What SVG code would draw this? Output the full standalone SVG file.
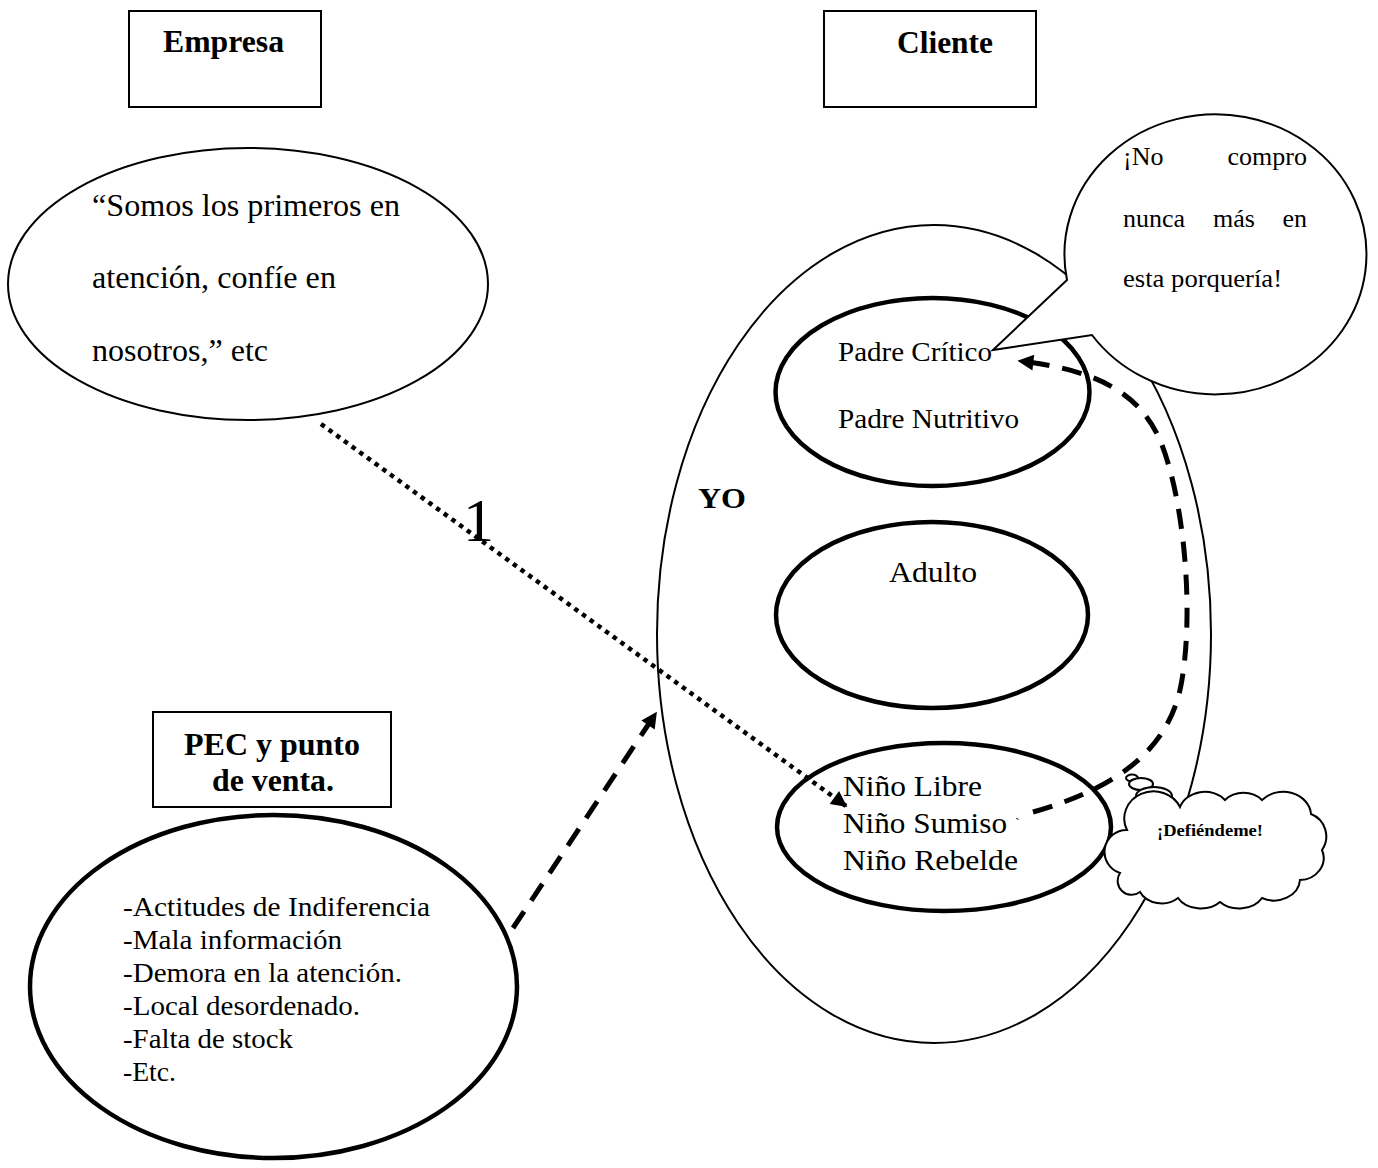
<svg xmlns="http://www.w3.org/2000/svg" width="1378" height="1168" viewBox="0 0 1378 1168">
  <style>
    .box { fill: #fff; stroke: #000; stroke-width: 2; }
    .thin { fill: #fff; stroke: #000; stroke-width: 2; }
    .thick { fill: none; stroke: #000; stroke-width: 4.5; }
    .t { font-family: "Liberation Serif", "Times New Roman", serif; fill: #000; }
    .b { font-family: "Liberation Serif", "Times New Roman", serif; font-weight: bold; fill: #000; }
    .dot { fill: none; stroke: #000; stroke-width: 4.5; stroke-dasharray: 4.5 5; }
    .dash { fill: none; stroke: #000; stroke-width: 5; stroke-dasharray: 20 13; }
  </style>
  <defs>
    <marker id="head" viewBox="0 0 10 10" refX="9" refY="5" markerWidth="18" markerHeight="16" markerUnits="userSpaceOnUse" orient="auto">
      <path d="M0,0 L10,5 L0,10 Z" fill="#000"/>
    </marker>
  </defs>

  <rect width="1378" height="1168" fill="#fff"/>

  <!-- title boxes -->
  <g id="empresa">
    <rect class="box" x="129" y="11" width="192" height="96"/>
    <text class="b" x="163" y="52" font-size="31" textLength="121" lengthAdjust="spacingAndGlyphs">Empresa</text>
  </g>
  <g id="cliente">
    <rect class="box" x="824" y="11" width="212" height="96"/>
    <text class="b" x="897" y="53" font-size="31" textLength="96" lengthAdjust="spacingAndGlyphs">Cliente</text>
  </g>

  <!-- company message -->
  <g id="mensaje-empresa">
    <ellipse class="thin" cx="248" cy="284" rx="240" ry="136"/>
    <text class="t" x="92" y="216" font-size="31" textLength="308" lengthAdjust="spacingAndGlyphs">“Somos los primeros en</text>
    <text class="t" x="92" y="288" font-size="31" textLength="244" lengthAdjust="spacingAndGlyphs">atención, confíe en</text>
    <text class="t" x="92" y="361" font-size="31" textLength="176" lengthAdjust="spacingAndGlyphs">nosotros,” etc</text>
  </g>

  <!-- client ego states -->
  <g id="yo">
    <ellipse class="thin" cx="934" cy="634" rx="277" ry="409"/>
    <text class="b" x="698" y="508" font-size="29" textLength="48" lengthAdjust="spacingAndGlyphs">YO</text>
  </g>
  <g id="padre">
    <ellipse class="thick" cx="932.5" cy="392" rx="157" ry="94"/>
    <text class="t" x="838" y="361" font-size="28" textLength="154" lengthAdjust="spacingAndGlyphs">Padre Crítico</text>
    <text class="t" x="838" y="428" font-size="28" textLength="181" lengthAdjust="spacingAndGlyphs">Padre Nutritivo</text>
  </g>
  <g id="adulto">
    <ellipse class="thick" cx="932" cy="615" rx="156" ry="93"/>
    <text class="t" x="889" y="582" font-size="30" textLength="88" lengthAdjust="spacingAndGlyphs">Adulto</text>
  </g>
  <g id="nino">
    <ellipse class="thick" cx="944" cy="827" rx="167" ry="84"/>
    <text class="t" x="843" y="796" font-size="30" textLength="139" lengthAdjust="spacingAndGlyphs">Niño Libre</text>
    <text class="t" x="843" y="833" font-size="30" textLength="164" lengthAdjust="spacingAndGlyphs">Niño Sumiso</text>
    <text class="t" x="1015" y="828" font-size="14">`</text>
    <text class="t" x="843" y="870" font-size="30" textLength="175" lengthAdjust="spacingAndGlyphs">Niño Rebelde</text>
  </g>

  <!-- speech bubble of the critical parent -->
  <g id="globo-padre">
    <path class="thin" d="M1067,280 L993,350 L1092,335 A151,140 0 1 0 1067,280 Z"/>
    <text class="t" x="1123" y="165" font-size="26">¡No</text>
    <text class="t" x="1307" y="165" font-size="26" text-anchor="end">compro</text>
    <text class="t" x="1123" y="227" font-size="26">nunca</text>
    <text class="t" x="1234" y="227" font-size="26" text-anchor="middle">más</text>
    <text class="t" x="1307" y="227" font-size="26" text-anchor="end">en</text>
    <text class="t" x="1123" y="287" font-size="26" textLength="159" lengthAdjust="spacingAndGlyphs">esta porquería!</text>
  </g>

  <!-- point of sale -->
  <g id="pec">
    <rect class="box" x="153" y="712" width="238" height="95"/>
    <text class="b" x="184" y="755" font-size="31" textLength="176" lengthAdjust="spacingAndGlyphs">PEC y punto</text>
    <text class="b" x="212" y="791" font-size="31" textLength="122" lengthAdjust="spacingAndGlyphs">de venta.</text>
  </g>
  <g id="problemas">
    <ellipse class="thick" cx="273.5" cy="986.5" rx="243.5" ry="171.5"/>
    <text class="t" x="123" y="916" font-size="28" textLength="307" lengthAdjust="spacingAndGlyphs">-Actitudes de Indiferencia</text>
    <text class="t" x="123" y="949" font-size="28" textLength="219" lengthAdjust="spacingAndGlyphs">-Mala información</text>
    <text class="t" x="123" y="982" font-size="28" textLength="279" lengthAdjust="spacingAndGlyphs">-Demora en la atención.</text>
    <text class="t" x="123" y="1015" font-size="28" textLength="237" lengthAdjust="spacingAndGlyphs">-Local desordenado.</text>
    <text class="t" x="123" y="1048" font-size="28" textLength="170" lengthAdjust="spacingAndGlyphs">-Falta de stock</text>
    <text class="t" x="123" y="1081" font-size="28" textLength="53" lengthAdjust="spacingAndGlyphs">-Etc.</text>
  </g>

  <!-- connectors -->
  <g id="conectores">
    <path class="dot" d="M321,424 L846,806" marker-end="url(#head)"/>
    <text class="t" x="463" y="541" font-size="62">1</text>
    <path class="dash" d="M513,928 L656,713" marker-end="url(#head)"/>
    <path class="dash" d="M1033,812 C1110,790 1165,755 1180,690 C1195,620 1185,500 1160,440 C1140,395 1100,370 1019,361" marker-end="url(#head)"/>
  </g>

  <!-- thought cloud of the child -->
  <g id="nube">
    <ellipse class="thin" cx="1132" cy="778" rx="6" ry="3.5"/>
    <ellipse class="thin" cx="1141" cy="784" rx="12" ry="6"/>
    <ellipse class="thin" cx="1154" cy="796" rx="18" ry="9"/>
    <path class="thin" d="M1120,873 A22,22 0 0 1 1127,830 A28,26 0 0 1 1180,807 A26,22 0 0 1 1225,800 A24,20 0 0 1 1262,800 A28,24 0 0 1 1311,814 A24,24 0 0 1 1322,850 A24,22 0 0 1 1300,880 A26,22 0 0 1 1262,898 A26,20 0 0 1 1220,902 A26,20 0 0 1 1178,898 A24,20 0 0 1 1140,892 A14,14 0 0 1 1120,873 Z"/>
    <text class="b" x="1157" y="836" font-size="17" textLength="106" lengthAdjust="spacingAndGlyphs">¡Defiéndeme!</text>
  </g>
</svg>
